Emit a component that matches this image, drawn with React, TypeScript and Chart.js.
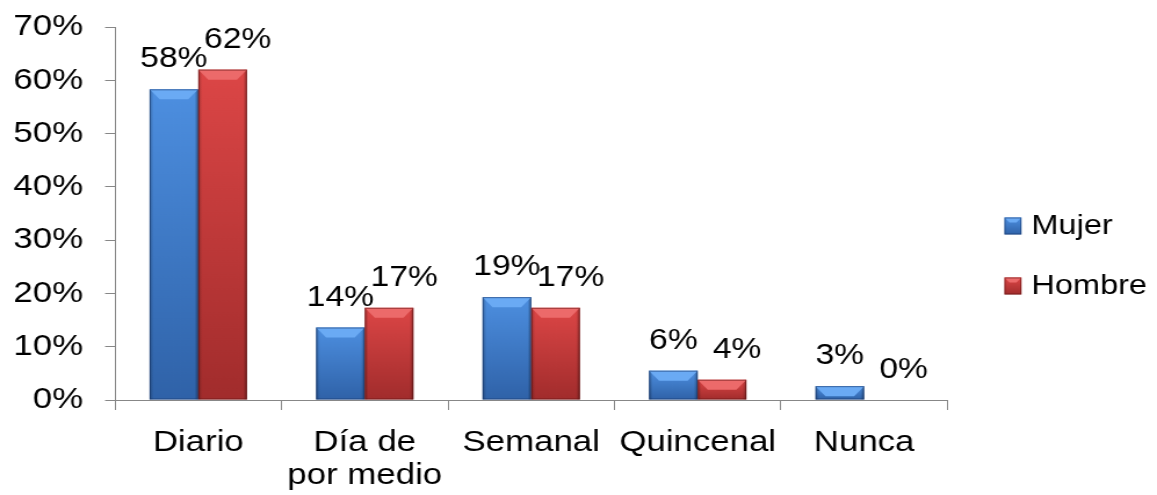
import React, { useEffect, useRef } from 'react';
import { Chart, registerables } from 'chart.js';

Chart.register(...registerables);

const categories: (string | string[])[] = ['Diario', ['Día de', 'por medio'], 'Semanal', 'Quincenal', 'Nunca'];
const mujerValues = [58.3, 13.6, 19.3, 5.5, 2.6];
const hombreValues = [62.0, 17.3, 17.3, 3.8, 0];
const seriesNames = ['Mujer', 'Hombre'];
const yTicks = [0, 10, 20, 30, 40, 50, 60, 70];

const FONT = "'Liberation Sans', Arial, sans-serif";

// The reference is horizontally stretched; draw narrower and stretch the canvas.
const SX = 1.16;
const PAGE_W = 1157;
const PAGE_H = 495;
const CANVAS_W = Math.round(PAGE_W / SX);

const palette = [
  { top: '#4d8fe0', bottom: '#2f62a8', bevel: '#6aaaf4', edge: 'rgba(20,50,100,0.55)' },
  { top: '#dc4646', bottom: '#a12c2c', bevel: '#ec6a6a', edge: 'rgba(90,15,15,0.55)' },
];
const labelOffsets = [0, 13];

const barStylePlugin = {
  id: 'barStyle',
  afterDatasetsDraw(chart: any) {
    const ctx = chart.ctx;
    chart.data.datasets.forEach((ds: any, di: number) => {
      const meta = chart.getDatasetMeta(di);
      const pal = palette[di];
      meta.data.forEach((bar: any) => {
        const { x, y, base, width } = bar.getProps(['x', 'y', 'base', 'width'], true);
        const left = x - width / 2;
        const right = x + width / 2;
        const h = base - y;
        if (h < 0.5) return;
        ctx.save();
        const g = ctx.createLinearGradient(0, y, 0, base);
        g.addColorStop(0, pal.top);
        g.addColorStop(1, pal.bottom);
        ctx.fillStyle = g;
        ctx.fillRect(left, y, width, h);
        const sg = ctx.createLinearGradient(left, 0, right, 0);
        sg.addColorStop(0, 'rgba(0,0,0,0.25)');
        sg.addColorStop(0.08, 'rgba(0,0,0,0)');
        sg.addColorStop(0.92, 'rgba(0,0,0,0)');
        sg.addColorStop(1, 'rgba(0,0,0,0.3)');
        ctx.fillStyle = sg;
        ctx.fillRect(left, y, width, h);
        const bv = Math.min(10, h);
        const bvx = bv / SX;
        ctx.beginPath();
        ctx.moveTo(left, y);
        ctx.lineTo(right, y);
        ctx.lineTo(right - bvx, y + bv);
        ctx.lineTo(left + bvx, y + bv);
        ctx.closePath();
        ctx.fillStyle = pal.bevel;
        ctx.fill();
        ctx.strokeStyle = pal.edge;
        ctx.lineWidth = 1;
        ctx.strokeRect(left + 0.5, y + 0.5, width - 1, h - 1);
        ctx.restore();
      });
    });
  },
};

const valueLabelPlugin = {
  id: 'valueLabels',
  afterDraw(chart: any) {
    const ctx = chart.ctx;
    ctx.save();
    ctx.font = `29px ${FONT}`;
    ctx.fillStyle = '#000';
    ctx.textAlign = 'center';
    ctx.textBaseline = 'middle';
    chart.data.datasets.forEach((ds: any, di: number) => {
      const meta = chart.getDatasetMeta(di);
      meta.data.forEach((bar: any, i: number) => {
        const v = ds.data[i];
        ctx.fillText(`${Math.round(v)}%`, bar.x + labelOffsets[di], bar.y - 30);
      });
    });
    ctx.restore();
  },
};

const legendPlugin = {
  id: 'customLegend',
  afterDraw(chart: any) {
    const ctx = chart.ctx;
    ctx.save();
    ctx.font = `28px ${FONT}`;
    ctx.textBaseline = 'middle';
    ctx.textAlign = 'left';
    const x0 = 1004 / SX;
    const ys = [226, 286];
    chart.data.datasets.forEach((ds: any, di: number) => {
      const pal = palette[di];
      const cy = ys[di];
      const s = 17;
      const sw = s / SX;
      const g = ctx.createLinearGradient(0, cy - s / 2, 0, cy + s / 2);
      g.addColorStop(0, pal.top);
      g.addColorStop(1, pal.bottom);
      ctx.fillStyle = g;
      ctx.fillRect(x0, cy - s / 2, sw, s);
      ctx.beginPath();
      ctx.moveTo(x0, cy - s / 2);
      ctx.lineTo(x0 + sw, cy - s / 2);
      ctx.lineTo(x0 + sw - 5 / SX, cy - s / 2 + 5);
      ctx.lineTo(x0 + 5 / SX, cy - s / 2 + 5);
      ctx.closePath();
      ctx.fillStyle = pal.bevel;
      ctx.fill();
      ctx.strokeStyle = pal.edge;
      ctx.strokeRect(x0 + 0.5, cy - s / 2 + 0.5, sw - 1, s - 1);
      ctx.fillStyle = '#000';
      ctx.fillText(ds.label, 1031 / SX, cy);
    });
    ctx.restore();
  },
};

export default function App() {
  const ref = useRef<HTMLCanvasElement | null>(null);
  useEffect(() => {
    document.body.style.margin = '0';
    if (!ref.current) return;
    const chart = new Chart(ref.current, {
      type: 'bar',
      data: {
        labels: categories as any,
        datasets: [
          { label: seriesNames[0], data: mujerValues, backgroundColor: 'rgba(0,0,0,0)', borderWidth: 0 },
          { label: seriesNames[1], data: hombreValues, backgroundColor: 'rgba(0,0,0,0)', borderWidth: 0 },
        ],
      },
      options: {
        responsive: false,
        animation: false,
        events: [],
        layout: { padding: { top: 27, right: CANVAS_W - 947 / SX, bottom: 0, left: 0 } },
        plugins: { legend: { display: false }, tooltip: { enabled: false } },
        datasets: { bar: { categoryPercentage: 0.585, barPercentage: 1 } },
        scales: {
          x: {
            offset: true,
            grid: { display: true, offset: true, drawOnChartArea: false, color: '#878787', tickLength: 10 },
            border: { display: true, color: '#878787', width: 1 },
            ticks: {
              color: '#000',
              font: { family: FONT, size: 30, lineHeight: 1.1 },
              padding: 16,
              maxRotation: 0,
              autoSkip: false,
            },
            afterFit: (s: any) => {
              s.height = 95;
              s.paddingLeft = 0;
              s.paddingRight = 0;
            },
          },
          y: {
            min: 0,
            max: 70,
            afterBuildTicks: (s: any) => { s.ticks = yTicks.map((v) => ({ value: v })); },
            grid: { display: true, drawOnChartArea: false, color: '#878787', tickLength: 10 / SX },
            border: { display: true, color: '#878787', width: 1 },
            ticks: {
              color: '#000',
              font: { family: FONT, size: 30 },
              padding: 22 / SX,
              callback: (v: any) => `${v}%`,
            },
            afterFit: (s: any) => {
              s.width = 115 / SX;
              s.paddingTop = 0;
              s.paddingBottom = 0;
            },
          },
        },
      },
      plugins: [barStylePlugin, valueLabelPlugin, legendPlugin],
    });
    return () => chart.destroy();
  }, []);
  return (
    <div style={{ position: 'absolute', left: 0, top: 0, width: PAGE_W, height: PAGE_H, background: '#fff', overflow: 'hidden' }}>
      <canvas
        ref={ref}
        width={CANVAS_W}
        height={PAGE_H}
        style={{ display: 'block', width: `${PAGE_W}px`, height: `${PAGE_H}px` }}
      />
    </div>
  );
}
